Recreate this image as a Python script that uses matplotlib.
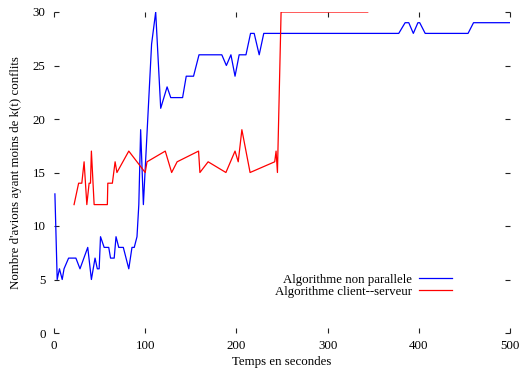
import matplotlib
matplotlib.use('Agg')
import matplotlib.pyplot as plt

# algorithme non parallele (blue)
t_np = [1, 3.5, 6, 9, 11, 16, 24, 28.5, 37, 41, 45, 47.5, 49.5, 51, 55, 60, 62, 66, 68, 71,
        76, 82, 85.5, 88, 91, 93, 95, 98, 107, 111.5, 117, 124, 128, 141, 145, 153, 159, 184,
        189, 194, 198.5, 203, 210.5, 215.5, 219.5, 225, 230, 378, 385, 389, 394, 399, 401,
        407, 454, 460, 500]
n_np = [13, 5, 6, 5, 6, 7, 7, 6, 8, 5, 7, 6, 6, 9, 8, 8, 7, 7, 9, 8,
        8, 6, 8, 8, 9, 12, 19, 12, 27, 30, 21, 23, 22, 22, 24, 24, 26, 26,
        25, 26, 24, 26, 26, 28, 28, 26, 28, 28, 29, 29, 28, 29, 29,
        28, 28, 29, 29]

# algorithme client--serveur (red)
t_cs = [22, 27, 30.5, 33, 36, 38.5, 40, 41, 44, 58.5, 59, 64, 67, 69, 82, 100, 102, 122,
        129, 135, 158.5, 160, 169, 188.5, 198.5, 202, 206, 215, 242, 243.5, 245, 249, 344]
n_cs = [12, 14, 14, 16, 12, 14, 14, 17, 12, 12, 14, 14, 16, 15, 17, 15, 16, 17,
        15, 16, 17, 15, 16, 15, 17, 16, 19, 15, 16, 17, 15, 30, 30]

plt.rcParams['font.family'] = ['Liberation Serif', 'DejaVu Serif']
plt.rcParams['font.size'] = 9.3

fig = plt.figure(figsize=(5.21, 3.68), dpi=100)
ax = fig.add_axes([54/521, 1 - 333/368, (510 - 54)/521, (333 - 12)/368])

ax.plot(t_np, n_np, color='#0000ff', lw=0.9, label='Algorithme non parallele')
ax.plot(t_cs, n_cs, color='#ff0000', lw=0.9, label='Algorithme client--serveur')

ax.set_xlim(0, 500)
ax.set_ylim(0, 30)
ax.set_xticks(range(0, 501, 100))
ax.set_yticks(range(0, 31, 5))
for s in ax.spines.values():
    s.set_visible(False)
ax.tick_params(direction='in', length=3.5, width=0.8, top=True, right=True, color='#222222')
ax.tick_params(axis='x', pad=5)
ax.tick_params(axis='y', pad=6)

ax.set_xlabel('Temps en secondes', labelpad=3)
ax.set_ylabel("Nombre d'avions ayant moins de k(t) conflits", labelpad=8)

ax.legend(loc='center right', bbox_to_anchor=(452/521, 1 - 285.5/368),
          bbox_transform=fig.transFigure, frameon=False, markerfirst=False,
          borderpad=0, borderaxespad=0, labelspacing=0.0, handlelength=2.55,
          handletextpad=0.55)

fig.savefig('out.png', dpi=100)
